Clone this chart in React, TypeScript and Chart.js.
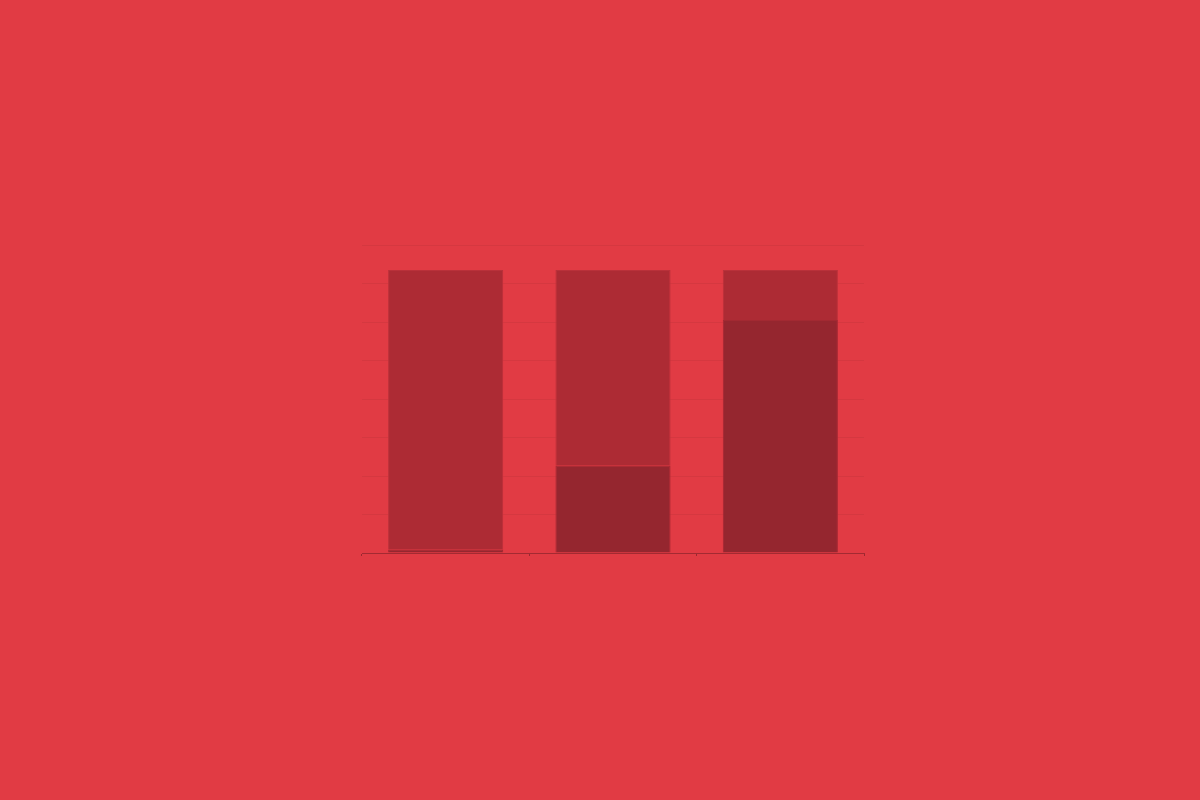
import React, { useEffect, useRef } from "react";
import { Chart, registerables } from "chart.js";

Chart.register(...registerables);

// three unlabeled columns, stacked two segments each
const categories = ["1", "2", "3"];
const lowerValues = [0.09, 2.27, 6.05];
const upperValues = [7.26, 5.08, 1.3];
const yMax = 8;

const BG = "#e13b44";

const App: React.FC = () => {
    const canvasRef = useRef<HTMLCanvasElement | null>(null);

    useEffect(() => {
        document.body.style.margin = "0";
        document.body.style.background = BG;
        if (!canvasRef.current) return;

        const chart = new Chart(canvasRef.current, {
            type: "bar",
            data: {
                labels: categories,
                datasets: [
                    {
                        label: "lower",
                        data: lowerValues,
                        backgroundColor: "#95262f",
                        borderColor: "#a22932",
                        borderWidth: 1,
                        categoryPercentage: 0.8,
                        barPercentage: 0.86,
                    },
                    {
                        label: "upper",
                        data: upperValues,
                        backgroundColor: "#ad2b34",
                        borderColor: "#b9313a",
                        borderWidth: 1,
                        categoryPercentage: 0.8,
                        barPercentage: 0.86,
                    },
                ],
            },
            options: {
                animation: false,
                responsive: true,
                maintainAspectRatio: false,
                layout: { padding: { left: 362, right: 336, top: 245, bottom: 244 } },
                plugins: { legend: { display: false }, tooltip: { enabled: false } },
                scales: {
                    x: {
                        stacked: true,
                        ticks: { display: false },
                        grid: { drawOnChartArea: false, drawTicks: true, tickLength: 3, color: "#9a2830" },
                        border: { display: true, color: "#a32a32" },
                    },
                    y: {
                        stacked: true,
                        min: 0,
                        max: yMax,
                        ticks: { display: false, stepSize: 1 },
                        grid: { drawTicks: false, color: "rgba(0,0,0,0.05)" },
                        border: { display: false },
                    },
                },
            },
        });

        return () => chart.destroy();
    }, []);

    return (
        <div style={{ position: "fixed", left: 0, top: 0, width: 1200, height: 800, background: BG }}>
            <canvas ref={canvasRef} />
        </div>
    );
};

export default App;
